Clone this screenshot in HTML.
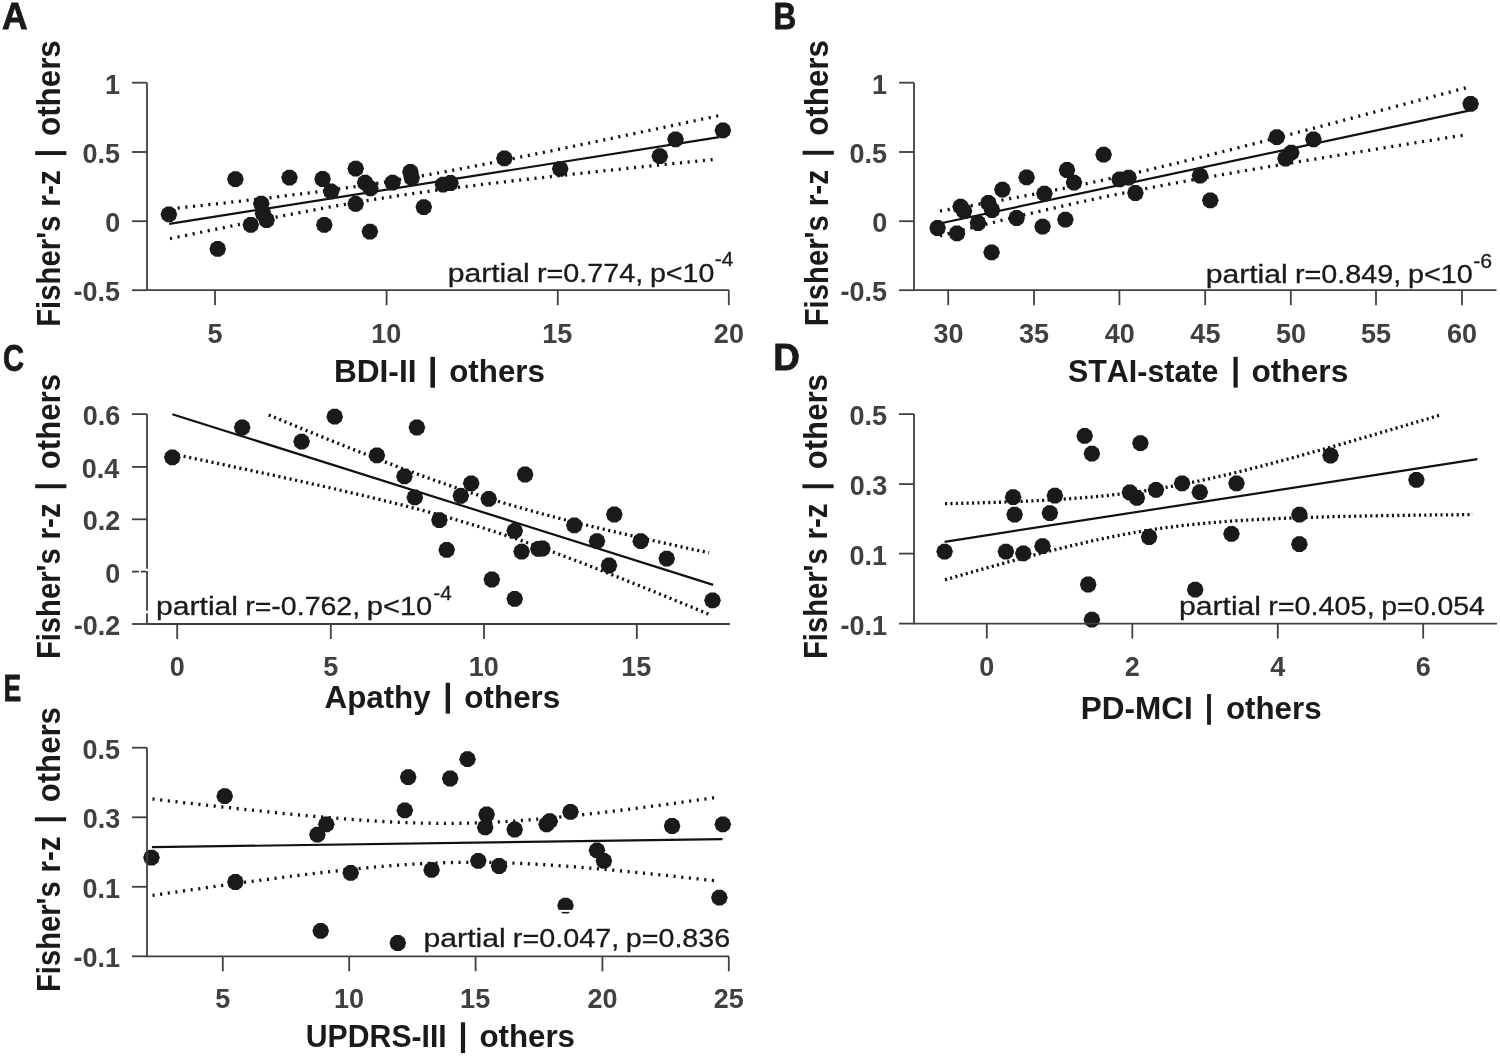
<!DOCTYPE html>
<html><head><meta charset="utf-8"><style>
html,body{margin:0;padding:0;background:#fff;}
svg{display:block;will-change:transform;}
text{font-family:"Liberation Sans",sans-serif;font-kerning:none;font-variant-ligatures:none;}
.ax{fill:none;stroke:#404040;stroke-width:1.8;}
.fit{fill:none;stroke:#111;stroke-width:2.2;}
.ci{fill:none;stroke:#111;stroke-width:3.3;}
.an{stroke:#1a1a1a;stroke-width:0.3;}
.pl{stroke:#1a1a1a;stroke-width:0.8;stroke-linejoin:miter;}
</style></head><body>
<svg width="1500" height="1057" viewBox="0 0 1500 1057">
<defs><polygon id="m" points="8.30,0.00 6.71,4.88 2.56,7.89 -2.56,7.89 -6.71,4.88 -8.30,0.00 -6.71,-4.88 -2.56,-7.89 2.56,-7.89 6.71,-4.88" fill="#1a1a1a"/></defs>
<rect width="1500" height="1057" fill="#fff"/>
<path d="M170.00,208.87 L179.34,207.87 L188.68,206.86 L198.02,205.85 L207.36,204.83 L216.69,203.80 L226.03,202.76 L235.37,201.71 L244.71,200.65 L254.05,199.57 L263.39,198.48 L272.73,197.38 L282.07,196.25 L291.41,195.11 L300.75,193.94 L310.08,192.75 L319.42,191.53 L328.76,190.28 L338.10,189.01 L347.44,187.69 L356.78,186.34 L366.12,184.96 L375.46,183.53 L384.80,182.07 L394.14,180.56 L403.47,179.02 L412.81,177.44 L422.15,175.82 L431.49,174.16 L440.83,172.48 L450.17,170.76 L459.51,169.02 L468.85,167.25 L478.19,165.46 L487.53,163.64 L496.86,161.81 L506.20,159.96 L515.54,158.10 L524.88,156.22 L534.22,154.33 L543.56,152.43 L552.90,150.52 L562.24,148.60 L571.58,146.67 L580.92,144.74 L590.25,142.80 L599.59,140.85 L608.93,138.90 L618.27,136.94 L627.61,134.98 L636.95,133.01 L646.29,131.04 L655.63,129.06 L664.97,127.09 L674.31,125.11 L683.64,123.12 L692.98,121.14 L702.32,119.15 L711.66,117.16 L721.00,115.17" class="ci" stroke-dasharray="2.1 5.60"/>
<path d="M170.00,238.68 L179.29,236.74 L188.58,234.82 L197.86,232.90 L207.15,230.99 L216.44,229.08 L225.73,227.19 L235.02,225.30 L244.31,223.43 L253.59,221.57 L262.88,219.73 L272.17,217.90 L281.46,216.09 L290.75,214.30 L300.03,212.53 L309.32,210.78 L318.61,209.06 L327.90,207.37 L337.19,205.72 L346.47,204.09 L355.76,202.50 L365.05,200.95 L374.34,199.43 L383.63,197.96 L392.92,196.52 L402.20,195.12 L411.49,193.76 L420.78,192.44 L430.07,191.15 L439.36,189.90 L448.64,188.67 L457.93,187.47 L467.22,186.30 L476.51,185.15 L485.80,184.02 L495.08,182.91 L504.37,181.82 L513.66,180.74 L522.95,179.68 L532.24,178.63 L541.53,177.59 L550.81,176.56 L560.10,175.54 L569.39,174.53 L578.68,173.52 L587.97,172.53 L597.25,171.53 L606.54,170.55 L615.83,169.57 L625.12,168.59 L634.41,167.62 L643.69,166.65 L652.98,165.68 L662.27,164.72 L671.56,163.76 L680.85,162.80 L690.14,161.85 L699.42,160.90 L708.71,159.95 L718.00,159.00" class="ci" stroke-dasharray="2.1 5.60"/>
<path d="M169.20,223.90 L719.30,137.20" class="fit"/>
<use href="#m" x="168.9" y="214.4"/>
<use href="#m" x="217.7" y="248.9"/>
<use href="#m" x="235.4" y="179.2"/>
<use href="#m" x="250.8" y="224.8"/>
<use href="#m" x="261.3" y="203.6"/>
<use href="#m" x="266.6" y="220.0"/>
<use href="#m" x="263.0" y="213.5"/>
<use href="#m" x="289.5" y="177.6"/>
<use href="#m" x="322.6" y="179.0"/>
<use href="#m" x="324.3" y="224.9"/>
<use href="#m" x="331.1" y="191.4"/>
<use href="#m" x="355.7" y="168.6"/>
<use href="#m" x="355.7" y="203.8"/>
<use href="#m" x="365.1" y="182.6"/>
<use href="#m" x="370.4" y="188.3"/>
<use href="#m" x="369.9" y="231.6"/>
<use href="#m" x="392.6" y="182.7"/>
<use href="#m" x="410.4" y="171.9"/>
<use href="#m" x="411.7" y="177.8"/>
<use href="#m" x="423.8" y="207.1"/>
<use href="#m" x="443.0" y="184.7"/>
<use href="#m" x="450.5" y="183.0"/>
<use href="#m" x="504.4" y="158.3"/>
<use href="#m" x="560.2" y="168.8"/>
<use href="#m" x="659.8" y="156.2"/>
<use href="#m" x="675.5" y="139.3"/>
<use href="#m" x="722.9" y="130.4"/>
<path d="M147.00,82.70 L147.00,290.20 L729.00,290.20" class="ax"/>
<path d="M132.00,82.70 H147.00" class="ax"/>
<text transform="translate(104.94,93.79) scale(1.0000,1)" font-size="27.00" font-weight="bold" fill="#404040">1</text>
<path d="M132.00,152.00 H147.00" class="ax"/>
<text transform="translate(82.42,163.09) scale(1.0000,1)" font-size="27.00" font-weight="bold" fill="#404040">0.5</text>
<path d="M132.00,221.20 H147.00" class="ax"/>
<text transform="translate(105.29,232.29) scale(1.0000,1)" font-size="27.00" font-weight="bold" fill="#404040">0</text>
<path d="M132.00,290.20 H147.00" class="ax"/>
<text transform="translate(73.43,301.29) scale(1.0000,1)" font-size="27.00" font-weight="bold" fill="#404040">-0.5</text>
<path d="M215.00,290.20 V305.20" class="ax"/>
<text transform="translate(207.45,342.50) scale(1.0000,1)" font-size="27.00" font-weight="bold" fill="#404040">5</text>
<path d="M386.60,290.20 V305.20" class="ax"/>
<text transform="translate(371.29,342.50) scale(1.0000,1)" font-size="27.00" font-weight="bold" fill="#404040">10</text>
<path d="M557.80,290.20 V305.20" class="ax"/>
<text transform="translate(542.31,342.50) scale(1.0000,1)" font-size="27.00" font-weight="bold" fill="#404040">15</text>
<path d="M728.80,290.20 V305.20" class="ax"/>
<text transform="translate(713.87,342.50) scale(1.0000,1)" font-size="27.00" font-weight="bold" fill="#404040">20</text>
<text transform="translate(2.12,29.40) scale(0.9423,1)" font-size="37.65" font-weight="bold" fill="#1a1a1a" class="pl">A</text>
<text transform="translate(60.20,326.86) rotate(-90) scale(0.9055,1)" font-size="32.41" font-weight="bold" fill="#1a1a1a">Fisher's</text>
<text transform="translate(60.20,206.75) rotate(-90) scale(0.9237,1)" font-size="32.41" font-weight="bold" fill="#1a1a1a">r-z</text>
<rect x="35.20" y="151.12" width="31.2" height="3.9" fill="#1a1a1a"/>
<text transform="translate(60.20,136.02) rotate(-90) scale(0.9682,1)" font-size="32.41" font-weight="bold" fill="#1a1a1a">others</text>
<text transform="translate(333.88,381.70) scale(0.9853,1)" font-size="32.12" font-weight="bold" fill="#1a1a1a">BDI-II</text>
<rect x="430.40" y="356.90" width="4.60" height="30.8" fill="#1a1a1a"/>
<text transform="translate(449.18,381.70) scale(0.9759,1)" font-size="32.12" font-weight="bold" fill="#1a1a1a">others</text>
<text transform="translate(447.66,281.70) scale(1.1602,1)" font-size="26.00" font-weight="normal" fill="#1a1a1a" class="an">partial</text>
<text transform="translate(536.89,281.70) scale(1.1079,1)" font-size="26.00" font-weight="normal" fill="#1a1a1a" class="an">r=0.774,</text>
<text transform="translate(649.96,281.70) scale(1.1007,1)" font-size="26.00" font-weight="normal" fill="#1a1a1a" class="an">p&lt;10</text>
<text transform="translate(714.77,265.90) scale(1.0230,1)" font-size="20.50" font-weight="normal" fill="#1a1a1a" class="an">-4</text>
<path d="M940.00,211.04 L948.98,209.50 L957.97,207.95 L966.95,206.39 L975.93,204.81 L984.92,203.21 L993.90,201.60 L1002.88,199.97 L1011.86,198.32 L1020.85,196.65 L1029.83,194.96 L1038.81,193.24 L1047.80,191.49 L1056.78,189.72 L1065.76,187.91 L1074.75,186.08 L1083.73,184.21 L1092.71,182.31 L1101.69,180.38 L1110.68,178.41 L1119.66,176.42 L1128.64,174.39 L1137.63,172.33 L1146.61,170.25 L1155.59,168.14 L1164.58,166.00 L1173.56,163.84 L1182.54,161.66 L1191.53,159.46 L1200.51,157.24 L1209.49,155.00 L1218.47,152.74 L1227.46,150.48 L1236.44,148.20 L1245.42,145.91 L1254.41,143.60 L1263.39,141.29 L1272.37,138.97 L1281.36,136.64 L1290.34,134.30 L1299.32,131.96 L1308.31,129.61 L1317.29,127.26 L1326.27,124.89 L1335.25,122.53 L1344.24,120.16 L1353.22,117.79 L1362.20,115.41 L1371.19,113.03 L1380.17,110.64 L1389.15,108.25 L1398.14,105.86 L1407.12,103.47 L1416.10,101.08 L1425.08,98.68 L1434.07,96.28 L1443.05,93.88 L1452.03,91.47 L1461.02,89.07 L1470.00,86.66" class="ci" stroke-dasharray="2.1 5.70"/>
<path d="M940.00,235.81 L948.93,233.53 L957.86,231.27 L966.80,229.01 L975.73,226.77 L984.66,224.54 L993.59,222.34 L1002.53,220.14 L1011.46,217.97 L1020.39,215.82 L1029.32,213.70 L1038.25,211.60 L1047.19,209.52 L1056.12,207.47 L1065.05,205.45 L1073.98,203.47 L1082.92,201.51 L1091.85,199.59 L1100.78,197.69 L1109.71,195.83 L1118.64,194.00 L1127.58,192.21 L1136.51,190.44 L1145.44,188.70 L1154.37,186.98 L1163.31,185.29 L1172.24,183.63 L1181.17,181.99 L1190.10,180.36 L1199.03,178.76 L1207.97,177.17 L1216.90,175.60 L1225.83,174.04 L1234.76,172.49 L1243.69,170.96 L1252.63,169.44 L1261.56,167.92 L1270.49,166.42 L1279.42,164.92 L1288.36,163.44 L1297.29,161.95 L1306.22,160.48 L1315.15,159.01 L1324.08,157.55 L1333.02,156.09 L1341.95,154.63 L1350.88,153.18 L1359.81,151.73 L1368.75,150.29 L1377.68,148.85 L1386.61,147.41 L1395.54,145.98 L1404.47,144.55 L1413.41,143.12 L1422.34,141.69 L1431.27,140.27 L1440.20,138.85 L1449.14,137.42 L1458.07,136.01 L1467.00,134.59" class="ci" stroke-dasharray="2.1 5.70"/>
<path d="M942.00,223.00 L1469.00,110.60" class="fit"/>
<use href="#m" x="937.6" y="228.0"/>
<use href="#m" x="957.0" y="233.4"/>
<use href="#m" x="960.6" y="206.6"/>
<use href="#m" x="964.0" y="211.0"/>
<use href="#m" x="978.0" y="223.0"/>
<use href="#m" x="988.4" y="203.0"/>
<use href="#m" x="992.0" y="210.0"/>
<use href="#m" x="991.6" y="252.4"/>
<use href="#m" x="1002.4" y="189.6"/>
<use href="#m" x="1016.6" y="218.0"/>
<use href="#m" x="1026.6" y="177.4"/>
<use href="#m" x="1042.6" y="226.6"/>
<use href="#m" x="1044.4" y="193.6"/>
<use href="#m" x="1065.4" y="219.6"/>
<use href="#m" x="1067.0" y="170.0"/>
<use href="#m" x="1074.0" y="182.6"/>
<use href="#m" x="1103.6" y="154.6"/>
<use href="#m" x="1119.6" y="179.4"/>
<use href="#m" x="1128.6" y="177.6"/>
<use href="#m" x="1135.4" y="193.0"/>
<use href="#m" x="1200.0" y="175.6"/>
<use href="#m" x="1210.3" y="200.3"/>
<use href="#m" x="1276.8" y="137.2"/>
<use href="#m" x="1285.5" y="158.5"/>
<use href="#m" x="1291.3" y="152.7"/>
<use href="#m" x="1313.4" y="139.3"/>
<use href="#m" x="1470.6" y="103.8"/>
<path d="M914.00,82.70 L914.00,290.20 L1496.50,290.20" class="ax"/>
<path d="M899.00,82.70 H914.00" class="ax"/>
<text transform="translate(871.94,93.79) scale(1.0000,1)" font-size="27.00" font-weight="bold" fill="#404040">1</text>
<path d="M899.00,152.00 H914.00" class="ax"/>
<text transform="translate(849.42,163.09) scale(1.0000,1)" font-size="27.00" font-weight="bold" fill="#404040">0.5</text>
<path d="M899.00,221.20 H914.00" class="ax"/>
<text transform="translate(872.29,232.29) scale(1.0000,1)" font-size="27.00" font-weight="bold" fill="#404040">0</text>
<path d="M899.00,290.20 H914.00" class="ax"/>
<text transform="translate(840.43,301.29) scale(1.0000,1)" font-size="27.00" font-weight="bold" fill="#404040">-0.5</text>
<path d="M948.20,290.20 V305.20" class="ax"/>
<text transform="translate(933.43,342.50) scale(1.0000,1)" font-size="27.00" font-weight="bold" fill="#404040">30</text>
<path d="M1034.00,290.20 V305.20" class="ax"/>
<text transform="translate(1019.05,342.50) scale(1.0000,1)" font-size="27.00" font-weight="bold" fill="#404040">35</text>
<path d="M1119.40,290.20 V305.20" class="ax"/>
<text transform="translate(1104.73,342.50) scale(1.0000,1)" font-size="27.00" font-weight="bold" fill="#404040">40</text>
<path d="M1205.20,290.20 V305.20" class="ax"/>
<text transform="translate(1190.36,342.50) scale(1.0000,1)" font-size="27.00" font-weight="bold" fill="#404040">45</text>
<path d="M1290.80,290.20 V305.20" class="ax"/>
<text transform="translate(1275.92,342.50) scale(1.0000,1)" font-size="27.00" font-weight="bold" fill="#404040">50</text>
<path d="M1376.00,290.20 V305.20" class="ax"/>
<text transform="translate(1360.94,342.50) scale(1.0000,1)" font-size="27.00" font-weight="bold" fill="#404040">55</text>
<path d="M1462.00,290.20 V305.20" class="ax"/>
<text transform="translate(1447.04,342.50) scale(1.0000,1)" font-size="27.00" font-weight="bold" fill="#404040">60</text>
<text transform="translate(773.59,28.90) scale(0.8363,1)" font-size="37.65" font-weight="bold" fill="#1a1a1a" class="pl">B</text>
<text transform="translate(827.60,326.26) rotate(-90) scale(0.9039,1)" font-size="32.41" font-weight="bold" fill="#1a1a1a">Fisher's</text>
<text transform="translate(827.60,206.35) rotate(-90) scale(0.9220,1)" font-size="32.41" font-weight="bold" fill="#1a1a1a">r-z</text>
<rect x="802.60" y="150.82" width="31.2" height="3.9" fill="#1a1a1a"/>
<text transform="translate(827.60,135.76) rotate(-90) scale(0.9665,1)" font-size="32.41" font-weight="bold" fill="#1a1a1a">others</text>
<text transform="translate(1067.92,381.60) scale(0.9481,1)" font-size="32.12" font-weight="bold" fill="#1a1a1a">STAI-state</text>
<rect x="1233.50" y="356.80" width="4.20" height="30.8" fill="#1a1a1a"/>
<text transform="translate(1251.46,381.60) scale(0.9864,1)" font-size="32.12" font-weight="bold" fill="#1a1a1a">others</text>
<text transform="translate(1205.66,283.40) scale(1.1602,1)" font-size="26.00" font-weight="normal" fill="#1a1a1a" class="an">partial</text>
<text transform="translate(1294.89,283.40) scale(1.1079,1)" font-size="26.00" font-weight="normal" fill="#1a1a1a" class="an">r=0.849,</text>
<text transform="translate(1407.94,283.40) scale(1.1079,1)" font-size="26.00" font-weight="normal" fill="#1a1a1a" class="an">p&lt;10</text>
<text transform="translate(1473.16,267.60) scale(1.0356,1)" font-size="20.50" font-weight="normal" fill="#1a1a1a" class="an">-6</text>
<path d="M268.70,414.94 L276.16,418.03 L283.63,421.12 L291.09,424.20 L298.55,427.27 L306.01,430.33 L313.48,433.38 L320.94,436.42 L328.40,439.44 L335.86,442.46 L343.33,445.45 L350.79,448.43 L358.25,451.40 L365.72,454.34 L373.18,457.27 L380.64,460.17 L388.10,463.05 L395.57,465.90 L403.03,468.72 L410.49,471.51 L417.95,474.27 L425.42,476.99 L432.88,479.68 L440.34,482.32 L447.81,484.93 L455.27,487.49 L462.73,490.00 L470.19,492.47 L477.66,494.88 L485.12,497.25 L492.58,499.57 L500.04,501.84 L507.51,504.07 L514.97,506.25 L522.43,508.38 L529.89,510.47 L537.36,512.51 L544.82,514.52 L552.28,516.49 L559.75,518.43 L567.21,520.34 L574.67,522.21 L582.13,524.06 L589.60,525.88 L597.06,527.68 L604.52,529.46 L611.98,531.21 L619.45,532.95 L626.91,534.68 L634.37,536.38 L641.84,538.07 L649.30,539.75 L656.76,541.42 L664.22,543.08 L671.69,544.72 L679.15,546.36 L686.61,547.99 L694.07,549.60 L701.54,551.22 L709.00,552.82" class="ci" stroke-dasharray="2.1 3.60"/>
<path d="M178.00,455.13 L187.00,457.00 L196.00,458.88 L205.00,460.77 L214.00,462.66 L223.00,464.56 L232.00,466.46 L241.00,468.37 L250.00,470.29 L259.00,472.22 L268.00,474.16 L277.00,476.10 L286.00,478.06 L295.00,480.03 L304.00,482.02 L313.00,484.02 L322.00,486.04 L331.00,488.07 L340.00,490.13 L349.00,492.21 L358.00,494.31 L367.00,496.44 L376.00,498.60 L385.00,500.80 L394.00,503.03 L403.00,505.30 L412.00,507.62 L421.00,509.99 L430.00,512.41 L439.00,514.88 L448.00,517.42 L457.00,520.02 L466.00,522.69 L475.00,525.43 L484.00,528.24 L493.00,531.11 L502.00,534.07 L511.00,537.08 L520.00,540.17 L529.00,543.32 L538.00,546.53 L547.00,549.80 L556.00,553.12 L565.00,556.49 L574.00,559.90 L583.00,563.35 L592.00,566.84 L601.00,570.36 L610.00,573.91 L619.00,577.49 L628.00,581.10 L637.00,584.73 L646.00,588.37 L655.00,592.04 L664.00,595.72 L673.00,599.42 L682.00,603.13 L691.00,606.85 L700.00,610.58 L709.00,614.33" class="ci" stroke-dasharray="2.1 3.60"/>
<path d="M172.30,414.20 L713.20,584.90" class="fit"/>
<use href="#m" x="172.3" y="457.3"/>
<use href="#m" x="242.2" y="427.5"/>
<use href="#m" x="301.6" y="441.6"/>
<use href="#m" x="334.7" y="416.7"/>
<use href="#m" x="416.9" y="427.5"/>
<use href="#m" x="376.9" y="455.4"/>
<use href="#m" x="404.4" y="476.4"/>
<use href="#m" x="414.8" y="497.4"/>
<use href="#m" x="439.4" y="520.1"/>
<use href="#m" x="446.7" y="549.9"/>
<use href="#m" x="460.8" y="495.8"/>
<use href="#m" x="471.2" y="483.3"/>
<use href="#m" x="488.7" y="498.9"/>
<use href="#m" x="525.1" y="474.5"/>
<use href="#m" x="514.7" y="530.8"/>
<use href="#m" x="521.6" y="551.6"/>
<use href="#m" x="491.8" y="579.5"/>
<use href="#m" x="514.7" y="598.8"/>
<use href="#m" x="538.3" y="548.9"/>
<use href="#m" x="542.4" y="548.5"/>
<use href="#m" x="574.3" y="525.3"/>
<use href="#m" x="614.3" y="514.5"/>
<use href="#m" x="597.0" y="541.2"/>
<use href="#m" x="609.0" y="565.5"/>
<use href="#m" x="640.7" y="541.2"/>
<use href="#m" x="666.7" y="558.7"/>
<use href="#m" x="712.5" y="600.3"/>
<path d="M147.00,414.10 L147.00,624.00 L730.00,624.00" class="ax"/>
<path d="M132.00,414.10 H147.00" class="ax"/>
<text transform="translate(82.64,425.19) scale(1.0000,1)" font-size="27.00" font-weight="bold" fill="#404040">0.6</text>
<path d="M132.00,466.90 H147.00" class="ax"/>
<text transform="translate(81.81,477.99) scale(1.0000,1)" font-size="27.00" font-weight="bold" fill="#404040">0.4</text>
<path d="M132.00,519.30 H147.00" class="ax"/>
<text transform="translate(82.75,530.39) scale(1.0000,1)" font-size="27.00" font-weight="bold" fill="#404040">0.2</text>
<path d="M132.00,571.60 H147.00" class="ax"/>
<text transform="translate(105.29,582.69) scale(1.0000,1)" font-size="27.00" font-weight="bold" fill="#404040">0</text>
<path d="M132.00,624.00 H147.00" class="ax"/>
<text transform="translate(73.76,635.09) scale(1.0000,1)" font-size="27.00" font-weight="bold" fill="#404040">-0.2</text>
<path d="M177.20,624.00 V639.00" class="ax"/>
<text transform="translate(169.71,675.90) scale(1.0000,1)" font-size="27.00" font-weight="bold" fill="#404040">0</text>
<path d="M330.80,624.00 V639.00" class="ax"/>
<text transform="translate(323.25,675.90) scale(1.0000,1)" font-size="27.00" font-weight="bold" fill="#404040">5</text>
<path d="M484.00,624.00 V639.00" class="ax"/>
<text transform="translate(468.69,675.90) scale(1.0000,1)" font-size="27.00" font-weight="bold" fill="#404040">10</text>
<path d="M636.80,624.00 V639.00" class="ax"/>
<text transform="translate(621.31,675.90) scale(1.0000,1)" font-size="27.00" font-weight="bold" fill="#404040">15</text>
<text transform="translate(2.90,370.60) scale(0.7760,1)" font-size="37.65" font-weight="bold" fill="#1a1a1a" class="pl">C</text>
<text transform="translate(60.20,659.05) rotate(-90) scale(0.9004,1)" font-size="32.41" font-weight="bold" fill="#1a1a1a">Fisher's</text>
<text transform="translate(60.20,539.61) rotate(-90) scale(0.9185,1)" font-size="32.41" font-weight="bold" fill="#1a1a1a">r-z</text>
<rect x="35.20" y="484.30" width="31.2" height="3.9" fill="#1a1a1a"/>
<text transform="translate(60.20,469.29) rotate(-90) scale(0.9628,1)" font-size="32.41" font-weight="bold" fill="#1a1a1a">others</text>
<text transform="translate(324.52,707.60) scale(0.9750,1)" font-size="32.12" font-weight="bold" fill="#1a1a1a">Apathy</text>
<rect x="445.70" y="682.80" width="4.30" height="30.8" fill="#1a1a1a"/>
<text transform="translate(464.27,707.60) scale(0.9791,1)" font-size="32.12" font-weight="bold" fill="#1a1a1a">others</text>
<text transform="translate(155.96,615.20) scale(1.1602,1)" font-size="26.00" font-weight="normal" fill="#1a1a1a" class="an">partial</text>
<text transform="translate(245.21,615.20) scale(1.0971,1)" font-size="26.00" font-weight="normal" fill="#1a1a1a" class="an">r=-0.762,</text>
<text transform="translate(366.72,615.20) scale(1.1204,1)" font-size="26.00" font-weight="normal" fill="#1a1a1a" class="an">p&lt;10</text>
<text transform="translate(433.28,599.60) scale(1.0050,1)" font-size="20.50" font-weight="normal" fill="#1a1a1a" class="an">-4</text>
<path d="M945.00,503.69 L953.40,503.50 L961.79,503.31 L970.19,503.10 L978.59,502.87 L986.98,502.62 L995.38,502.36 L1003.78,502.07 L1012.17,501.75 L1020.57,501.41 L1028.97,501.04 L1037.36,500.64 L1045.76,500.20 L1054.16,499.71 L1062.55,499.19 L1070.95,498.61 L1079.35,497.99 L1087.74,497.30 L1096.14,496.55 L1104.54,495.73 L1112.93,494.84 L1121.33,493.87 L1129.73,492.82 L1138.12,491.69 L1146.52,490.47 L1154.92,489.16 L1163.31,487.77 L1171.71,486.29 L1180.11,484.72 L1188.50,483.07 L1196.90,481.35 L1205.29,479.56 L1213.69,477.70 L1222.09,475.77 L1230.48,473.79 L1238.88,471.75 L1247.28,469.67 L1255.67,467.54 L1264.07,465.37 L1272.47,463.17 L1280.86,460.93 L1289.26,458.66 L1297.66,456.37 L1306.05,454.05 L1314.45,451.71 L1322.85,449.36 L1331.24,446.98 L1339.64,444.58 L1348.04,442.17 L1356.43,439.75 L1364.83,437.31 L1373.23,434.87 L1381.62,432.41 L1390.02,429.94 L1398.42,427.46 L1406.81,424.98 L1415.21,422.49 L1423.61,419.99 L1432.00,417.48 L1440.40,414.97" class="ci" stroke-dasharray="2.1 3.30"/>
<path d="M945.00,579.79 L953.95,577.21 L962.90,574.64 L971.85,572.10 L980.80,569.57 L989.75,567.06 L998.69,564.58 L1007.64,562.13 L1016.59,559.70 L1025.54,557.31 L1034.49,554.95 L1043.44,552.63 L1052.39,550.36 L1061.34,548.14 L1070.29,545.97 L1079.24,543.86 L1088.19,541.82 L1097.14,539.85 L1106.08,537.96 L1115.03,536.15 L1123.98,534.43 L1132.93,532.81 L1141.88,531.28 L1150.83,529.85 L1159.78,528.52 L1168.73,527.29 L1177.68,526.15 L1186.63,525.11 L1195.58,524.15 L1204.53,523.28 L1213.47,522.49 L1222.42,521.77 L1231.37,521.11 L1240.32,520.51 L1249.27,519.97 L1258.22,519.47 L1267.17,519.02 L1276.12,518.61 L1285.07,518.23 L1294.02,517.89 L1302.97,517.58 L1311.92,517.29 L1320.86,517.02 L1329.81,516.78 L1338.76,516.55 L1347.71,516.34 L1356.66,516.15 L1365.61,515.97 L1374.56,515.81 L1383.51,515.66 L1392.46,515.51 L1401.41,515.38 L1410.36,515.26 L1419.31,515.14 L1428.25,515.04 L1437.20,514.94 L1446.15,514.84 L1455.10,514.76 L1464.05,514.68 L1473.00,514.60" class="ci" stroke-dasharray="2.1 3.30"/>
<path d="M944.60,541.80 L1477.40,459.20" class="fit"/>
<use href="#m" x="944.6" y="551.6"/>
<use href="#m" x="1005.9" y="551.6"/>
<use href="#m" x="1023.3" y="553.4"/>
<use href="#m" x="1042.5" y="546.2"/>
<use href="#m" x="1013.1" y="497.2"/>
<use href="#m" x="1014.6" y="514.6"/>
<use href="#m" x="1054.9" y="495.7"/>
<use href="#m" x="1049.9" y="513.1"/>
<use href="#m" x="1084.7" y="435.9"/>
<use href="#m" x="1091.9" y="453.7"/>
<use href="#m" x="1088.2" y="584.5"/>
<use href="#m" x="1091.9" y="619.7"/>
<use href="#m" x="1140.4" y="443.1"/>
<use href="#m" x="1129.9" y="492.5"/>
<use href="#m" x="1136.9" y="497.9"/>
<use href="#m" x="1156.0" y="489.8"/>
<use href="#m" x="1182.1" y="483.3"/>
<use href="#m" x="1199.8" y="492.2"/>
<use href="#m" x="1149.1" y="537.0"/>
<use href="#m" x="1195.2" y="589.7"/>
<use href="#m" x="1236.5" y="483.3"/>
<use href="#m" x="1231.5" y="533.8"/>
<use href="#m" x="1299.4" y="514.6"/>
<use href="#m" x="1299.4" y="544.2"/>
<use href="#m" x="1330.5" y="455.5"/>
<use href="#m" x="1416.4" y="479.8"/>
<path d="M914.00,414.10 L914.00,623.60 L1497.00,623.60" class="ax"/>
<path d="M899.00,414.10 H914.00" class="ax"/>
<text transform="translate(849.42,425.19) scale(1.0000,1)" font-size="27.00" font-weight="bold" fill="#404040">0.5</text>
<path d="M899.00,484.10 H914.00" class="ax"/>
<text transform="translate(849.64,495.19) scale(1.0000,1)" font-size="27.00" font-weight="bold" fill="#404040">0.3</text>
<path d="M899.00,553.60 H914.00" class="ax"/>
<text transform="translate(849.42,564.69) scale(1.0000,1)" font-size="27.00" font-weight="bold" fill="#404040">0.1</text>
<path d="M899.00,623.60 H914.00" class="ax"/>
<text transform="translate(840.43,634.69) scale(1.0000,1)" font-size="27.00" font-weight="bold" fill="#404040">-0.1</text>
<path d="M986.80,623.60 V638.60" class="ax"/>
<text transform="translate(979.31,675.80) scale(1.0000,1)" font-size="27.00" font-weight="bold" fill="#404040">0</text>
<path d="M1132.30,623.60 V638.60" class="ax"/>
<text transform="translate(1124.86,675.80) scale(1.0000,1)" font-size="27.00" font-weight="bold" fill="#404040">2</text>
<path d="M1277.80,623.60 V638.60" class="ax"/>
<text transform="translate(1270.16,675.80) scale(1.0000,1)" font-size="27.00" font-weight="bold" fill="#404040">4</text>
<path d="M1423.20,623.60 V638.60" class="ax"/>
<text transform="translate(1415.69,675.80) scale(1.0000,1)" font-size="27.00" font-weight="bold" fill="#404040">6</text>
<text transform="translate(773.23,370.30) scale(0.9789,1)" font-size="37.65" font-weight="bold" fill="#1a1a1a" class="pl">D</text>
<text transform="translate(827.40,658.95) rotate(-90) scale(0.8997,1)" font-size="32.41" font-weight="bold" fill="#1a1a1a">Fisher's</text>
<text transform="translate(827.40,539.60) rotate(-90) scale(0.9178,1)" font-size="32.41" font-weight="bold" fill="#1a1a1a">r-z</text>
<rect x="802.40" y="484.32" width="31.2" height="3.9" fill="#1a1a1a"/>
<text transform="translate(827.40,469.32) rotate(-90) scale(0.9621,1)" font-size="32.41" font-weight="bold" fill="#1a1a1a">others</text>
<text transform="translate(1080.69,718.80) scale(0.9818,1)" font-size="32.12" font-weight="bold" fill="#1a1a1a">PD-MCI</text>
<rect x="1207.10" y="694.00" width="3.80" height="30.8" fill="#1a1a1a"/>
<text transform="translate(1225.88,718.80) scale(0.9759,1)" font-size="32.12" font-weight="bold" fill="#1a1a1a">others</text>
<text transform="translate(1178.96,614.50) scale(1.1602,1)" font-size="26.00" font-weight="normal" fill="#1a1a1a" class="an">partial</text>
<text transform="translate(1268.19,614.50) scale(1.1079,1)" font-size="26.00" font-weight="normal" fill="#1a1a1a" class="an">r=0.405,</text>
<text transform="translate(1381.27,614.50) scale(1.0946,1)" font-size="26.00" font-weight="normal" fill="#1a1a1a" class="an">p=0.054</text>
<path d="M152.50,798.99 L162.11,800.11 L171.72,801.23 L181.33,802.33 L190.93,803.43 L200.54,804.52 L210.15,805.60 L219.76,806.67 L229.37,807.73 L238.98,808.77 L248.58,809.80 L258.19,810.81 L267.80,811.81 L277.41,812.79 L287.02,813.75 L296.63,814.68 L306.24,815.59 L315.84,816.47 L325.45,817.32 L335.06,818.13 L344.67,818.90 L354.28,819.63 L363.89,820.31 L373.49,820.94 L383.10,821.51 L392.71,822.01 L402.32,822.45 L411.93,822.80 L421.54,823.08 L431.15,823.27 L440.75,823.36 L450.36,823.37 L459.97,823.27 L469.58,823.08 L479.19,822.79 L488.80,822.41 L498.41,821.94 L508.01,821.38 L517.62,820.74 L527.23,820.02 L536.84,819.24 L546.45,818.39 L556.06,817.48 L565.66,816.52 L575.27,815.51 L584.88,814.46 L594.49,813.37 L604.10,812.24 L613.71,811.09 L623.32,809.90 L632.92,808.69 L642.53,807.46 L652.14,806.21 L661.75,804.93 L671.36,803.64 L680.97,802.34 L690.57,801.02 L700.18,799.69 L709.79,798.35 L719.40,796.99" class="ci" stroke-dasharray="2.1 5.60"/>
<path d="M152.50,895.39 L162.11,894.00 L171.72,892.61 L181.33,891.23 L190.93,889.86 L200.54,888.50 L210.15,887.15 L219.76,885.81 L229.37,884.48 L238.98,883.16 L248.58,881.86 L258.19,880.57 L267.80,879.30 L277.41,878.05 L287.02,876.82 L296.63,875.61 L306.24,874.43 L315.84,873.28 L325.45,872.16 L335.06,871.07 L344.67,870.03 L354.28,869.02 L363.89,868.07 L373.49,867.17 L383.10,866.33 L392.71,865.55 L402.32,864.84 L411.93,864.21 L421.54,863.67 L431.15,863.20 L440.75,862.83 L450.36,862.56 L459.97,862.38 L469.58,862.30 L479.19,862.31 L488.80,862.42 L498.41,862.62 L508.01,862.91 L517.62,863.28 L527.23,863.72 L536.84,864.23 L546.45,864.81 L556.06,865.45 L565.66,866.13 L575.27,866.87 L584.88,867.65 L594.49,868.47 L604.10,869.32 L613.71,870.20 L623.32,871.11 L632.92,872.05 L642.53,873.01 L652.14,873.99 L661.75,874.99 L671.36,876.01 L680.97,877.04 L690.57,878.09 L700.18,879.14 L709.79,880.21 L719.40,881.30" class="ci" stroke-dasharray="2.1 5.60"/>
<path d="M151.90,847.20 L722.50,839.10" class="fit"/>
<use href="#m" x="151.5" y="857.6"/>
<use href="#m" x="224.7" y="796.2"/>
<use href="#m" x="235.4" y="882.0"/>
<use href="#m" x="317.4" y="834.7"/>
<use href="#m" x="326.3" y="824.3"/>
<use href="#m" x="320.7" y="930.9"/>
<use href="#m" x="350.7" y="872.8"/>
<use href="#m" x="408.2" y="777.1"/>
<use href="#m" x="404.8" y="810.4"/>
<use href="#m" x="431.6" y="869.9"/>
<use href="#m" x="397.8" y="943.0"/>
<use href="#m" x="467.5" y="759.2"/>
<use href="#m" x="450.2" y="778.5"/>
<use href="#m" x="486.6" y="814.5"/>
<use href="#m" x="485.2" y="827.4"/>
<use href="#m" x="514.7" y="829.5"/>
<use href="#m" x="546.6" y="824.3"/>
<use href="#m" x="549.7" y="821.2"/>
<use href="#m" x="570.5" y="811.8"/>
<use href="#m" x="478.3" y="860.8"/>
<use href="#m" x="499.1" y="866.0"/>
<use href="#m" x="597.0" y="850.3"/>
<use href="#m" x="603.9" y="860.8"/>
<use href="#m" x="565.5" y="905.7"/>
<use href="#m" x="672.1" y="826.0"/>
<use href="#m" x="722.8" y="824.3"/>
<use href="#m" x="719.4" y="897.6"/>
<path d="M147.00,747.70 L147.00,956.30 L729.00,956.30" class="ax"/>
<path d="M132.00,747.70 H147.00" class="ax"/>
<text transform="translate(82.42,758.79) scale(1.0000,1)" font-size="27.00" font-weight="bold" fill="#404040">0.5</text>
<path d="M132.00,817.30 H147.00" class="ax"/>
<text transform="translate(82.64,828.39) scale(1.0000,1)" font-size="27.00" font-weight="bold" fill="#404040">0.3</text>
<path d="M132.00,886.80 H147.00" class="ax"/>
<text transform="translate(82.42,897.89) scale(1.0000,1)" font-size="27.00" font-weight="bold" fill="#404040">0.1</text>
<path d="M132.00,956.30 H147.00" class="ax"/>
<text transform="translate(73.43,967.39) scale(1.0000,1)" font-size="27.00" font-weight="bold" fill="#404040">-0.1</text>
<path d="M222.80,956.30 V971.30" class="ax"/>
<text transform="translate(215.25,1007.60) scale(1.0000,1)" font-size="27.00" font-weight="bold" fill="#404040">5</text>
<path d="M349.20,956.30 V971.30" class="ax"/>
<text transform="translate(333.89,1007.60) scale(1.0000,1)" font-size="27.00" font-weight="bold" fill="#404040">10</text>
<path d="M475.60,956.30 V971.30" class="ax"/>
<text transform="translate(460.11,1007.60) scale(1.0000,1)" font-size="27.00" font-weight="bold" fill="#404040">15</text>
<path d="M602.40,956.30 V971.30" class="ax"/>
<text transform="translate(587.47,1007.60) scale(1.0000,1)" font-size="27.00" font-weight="bold" fill="#404040">20</text>
<path d="M728.80,956.30 V971.30" class="ax"/>
<text transform="translate(713.69,1007.60) scale(1.0000,1)" font-size="27.00" font-weight="bold" fill="#404040">25</text>
<text transform="translate(3.62,701.10) scale(0.7055,1)" font-size="37.65" font-weight="bold" fill="#1a1a1a" class="pl">E</text>
<text transform="translate(59.90,991.95) rotate(-90) scale(0.8997,1)" font-size="32.41" font-weight="bold" fill="#1a1a1a">Fisher's</text>
<text transform="translate(59.90,872.60) rotate(-90) scale(0.9178,1)" font-size="32.41" font-weight="bold" fill="#1a1a1a">r-z</text>
<rect x="34.90" y="817.32" width="31.2" height="3.9" fill="#1a1a1a"/>
<text transform="translate(59.90,802.32) rotate(-90) scale(0.9621,1)" font-size="32.41" font-weight="bold" fill="#1a1a1a">others</text>
<text transform="translate(305.79,1047.10) scale(0.9408,1)" font-size="32.12" font-weight="bold" fill="#1a1a1a">UPDRS-III</text>
<rect x="460.90" y="1022.30" width="4.20" height="30.8" fill="#1a1a1a"/>
<text transform="translate(479.38,1047.10) scale(0.9749,1)" font-size="32.12" font-weight="bold" fill="#1a1a1a">others</text>
<text transform="translate(423.56,947.10) scale(1.1602,1)" font-size="26.00" font-weight="normal" fill="#1a1a1a" class="an">partial</text>
<text transform="translate(512.79,947.10) scale(1.1079,1)" font-size="26.00" font-weight="normal" fill="#1a1a1a" class="an">r=0.047,</text>
<text transform="translate(625.85,947.10) scale(1.1013,1)" font-size="26.00" font-weight="normal" fill="#1a1a1a" class="an">p=0.836</text>
<rect x="555" y="909.9" width="21" height="2" fill="#fff"/>
<rect x="145.6" y="568.8" width="2.8" height="2.2" fill="#fff"/>
<rect x="138.8" y="570.4" width="2.2" height="3" fill="#fff"/>
<rect x="145.6" y="610.7" width="2.8" height="2.5" fill="#fff"/>
</svg>
</body></html>
